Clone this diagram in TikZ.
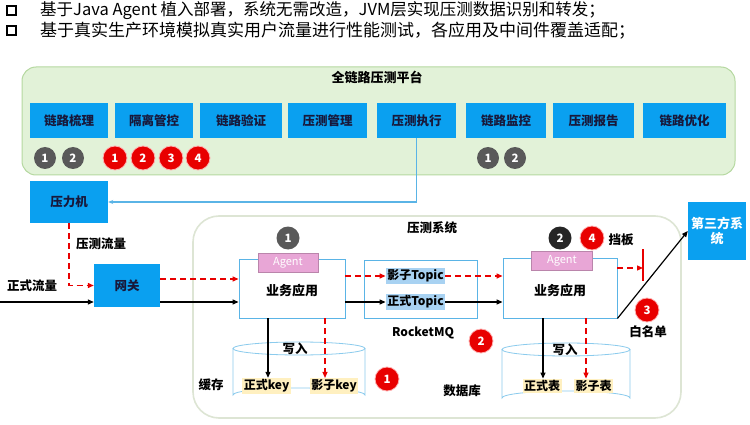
\documentclass[tikz,border=0pt]{standalone}
\usepackage{fontspec}
\setmainfont{Noto Sans CJK SC}
\usetikzlibrary{arrows.meta}
\definecolor{platfill}{HTML}{E2F2D8}
\definecolor{platdraw}{HTML}{B5D8A0}
\definecolor{blueC}{HTML}{0AA0F0}
\definecolor{txtC}{HTML}{18183A}
\definecolor{grayC}{HTML}{595959}
\definecolor{darkC}{HTML}{262626}
\definecolor{redC}{HTML}{E80000}
\definecolor{pinkC}{HTML}{E8A6D6}
\definecolor{topicC}{HTML}{A8D2F2}
\definecolor{keyC}{HTML}{FFF0C0}
\definecolor{lineBlue}{HTML}{5AB4E6}
\definecolor{sysDraw}{HTML}{DDE5D4}
\begin{document}
\begin{tikzpicture}[x=1pt,y=-1pt,
  lbl/.style={inner sep=0, font=\bfseries\fontsize{12.5}{14}\selectfont, text=black},
  bluebox/.style={fill=blueC, draw=none, inner sep=0, minimum height=35, font=\bfseries\fontsize{12.5}{14}\selectfont, text=txtC},
  numc/.style={circle, inner sep=0, font=\bfseries\fontsize{11.5}{12}\selectfont, text=white},
  gc/.style={numc, fill=grayC, minimum size=22},
  dc/.style={numc, fill=darkC, minimum size=22},
  rc/.style={numc, fill=redC, minimum size=24, draw=red!30, line width=0.8pt},
  appbox/.style={draw=lineBlue, line width=0.9pt, fill=white, inner sep=0},
  agentbox/.style={fill=pinkC, draw=pinkC!80!black, line width=0.4pt, inner sep=0, text=white, font=\fontsize{11}{12}\selectfont},
  redarr/.style={draw=redC, line width=1.3pt, dash pattern=on 6pt off 4pt, -{Triangle[length=6pt,width=5pt]}},
  blkarr/.style={draw=black, line width=1.2pt, -{Triangle[length=6pt,width=5pt]}},
  bluearr/.style={draw=lineBlue, line width=1.1pt, -{Stealth[length=5pt,width=4pt]}},
  hl/.style={inner sep=1.5pt, font=\bfseries\fontsize{12}{14}\selectfont},
  bullet/.style={draw=black, line width=2pt, minimum size=9, inner sep=0}
]
\useasboundingbox (0,0) rectangle (750,425);
% header
\node[bullet] (sq1) at (11,11) {};
\node[bullet] (sq2) at (11,31) {};
\node[anchor=west, inner sep=0, font=\fontsize{16.5}{18}\selectfont] (t1) at (40,11) {基于Java Agent 植入部署，系统无需改造，JVM层实现压测数据识别和转发；};
\node[anchor=west, inner sep=0, font=\fontsize{17}{18}\selectfont] (t2) at (40,31) {基于真实生产环境模拟真实用户流量进行性能测试，各应用及中间件覆盖适配；};
% platform
\draw[fill=platfill, draw=platdraw, line width=1pt, rounded corners=14] (22,67) rectangle (735,175);
\node[lbl, font=\bfseries\fontsize{13}{14}\selectfont] (ptitle) at (377,77) {全链路压测平台};
\node[bluebox, minimum width=78] (b1) at (69,120.5) {链路梳理};
\node[bluebox, minimum width=78] (b2) at (154,120.5) {隔离管控};
\node[bluebox, minimum width=82] (b3) at (241,120.5) {链路验证};
\node[bluebox, minimum width=79] (b4) at (327.5,120.5) {压测管理};
\node[bluebox, minimum width=79] (b5) at (416.5,120.5) {压测执行};
\node[bluebox, minimum width=80] (b6) at (506,120.5) {链路监控};
\node[bluebox, minimum width=81] (b7) at (593.5,120.5) {压测报告};
\node[bluebox, minimum width=83] (b8) at (684.5,120.5) {链路优化};
\node[gc] (g1) at (45,158) {1};
\node[gc] (g2) at (73,158) {2};
\node[rc] (r1) at (115,158) {1};
\node[rc] (r2) at (143,158) {2};
\node[rc] (r3) at (171,158) {3};
\node[rc] (r4) at (198,158) {4};
\node[gc] (g3) at (488,158) {1};
\node[gc] (g4) at (515,158) {2};
% test system container
\draw[draw=sysDraw, line width=1.6pt, fill=white, rounded corners=26] (193,216) rectangle (681,418);
\node[lbl] (systitle) at (432,228) {压测系统};
% press & gateway
\node[bluebox, minimum width=78, minimum height=42] (press) at (69,202) {压力机};
\node[bluebox, minimum width=66, minimum height=43] (gw) at (127,285.5) {网关};
\draw[bluearr] (b5.south) |- (press.east);
\node[lbl] (ptraffic) at (101,244) {压测流量};
\node[lbl] (ftraffic) at (32,286) {正式流量};
\coordinate (in) at (0,302);
\draw[redarr] (press.south) |- (gw.west);
\draw[blkarr] (in) -- (in -| gw.west);
% apps
\node[appbox, minimum width=106, minimum height=59] (app1) at (292,288.5) {};
\node[lbl, font=\bfseries\fontsize{13}{14}\selectfont] (app1t) at (292,291) {业务应用};
\node[agentbox, minimum width=60, minimum height=19] (ag1) at (288,262.5) {Agent};
\node[gc, minimum size=23] (c1) at (288,238) {1};
\node[appbox, minimum width=113, minimum height=58] (mq) at (420.5,289) {};
\node[hl, fill=topicC] (st) at (415.5,276) {影子Topic};
\node[hl, fill=topicC] (ft) at (415.5,302) {正式Topic};
\node[lbl, font=\bfseries\fontsize{12}{14}\selectfont] (mqt) at (423,333) {RocketMQ};
\node[rc] (r5) at (481,341) {2};
\node[appbox, minimum width=114, minimum height=60] (app2) at (560,288) {};
\node[lbl, font=\bfseries\fontsize{13}{14}\selectfont] (app2t) at (560,291) {业务应用};
\node[agentbox, minimum width=61, minimum height=19] (ag2) at (562,261) {Agent};
\node[dc, minimum size=23] (c2) at (560,238) {2};
\node[rc] (c4) at (592,238) {4};
\node[lbl] (dangban) at (621,240) {挡板};
% third party
\node[fill=blueC, inner sep=0, minimum width=58, minimum height=58, text=white, align=center, font=\bfseries\fontsize{13}{15}\selectfont] (third) at (717,231) {第三方系\\统};
\node[rc] (c3) at (647,310) {3};
\node[lbl] (wl) at (648,332) {白名单};
% flows
\coordinate (dsh) at (0,279);
\coordinate (sol) at (0,302);
\draw[redarr] (gw.east |- dsh) -- (app1.west |- dsh);
\draw[blkarr] (gw.east |- sol) -- (app1.west |- sol);
\draw[redarr] (app1.east |- st) -- (st.west);
\draw[blkarr] (app1.east |- ft) -- (ft.west);
\draw[redarr] (st.east) -- (app2.west |- st);
\draw[blkarr] (ft.east) -- (app2.west |- ft);
\coordinate (stopT) at (643,249);
\coordinate (stopB) at (643,281);
\coordinate (stopM) at (643,268);
\draw[draw=redC, line width=1.1pt] (stopT) -- (stopB);
\draw[redarr] (app2.east |- stopM) -- (stopM);
\draw[line width=1.2pt, -{Triangle[length=6pt,width=5pt]}] (app2.south east) -- (third.west);
% cylinders
\draw[draw=lineBlue!70, line width=0.8pt, fill=white] (233,348.5) -- (233,395) arc[start angle=180, end angle=360, x radius=66, y radius=7] -- (365,348.5);
\draw[draw=lineBlue!70, line width=0.8pt, fill=white] (299,348.5) ellipse[x radius=66, y radius=6.5];
\draw[draw=lineBlue!70, line width=0.8pt, fill=white] (502,349.5) -- (502,398) arc[start angle=180, end angle=360, x radius=64, y radius=7] -- (630,349.5);
\draw[draw=lineBlue!70, line width=0.8pt, fill=white] (566,349.5) ellipse[x radius=64, y radius=6.5];
\node[lbl] (w1) at (295,349) {写入};
\node[lbl] (w2) at (565,350) {写入};
\node[hl, fill=keyC] (k1) at (266.5,386) {正式key};
\node[hl, fill=keyC] (k2) at (334,386) {影子key};
\node[hl, fill=keyC] (k3) at (542,386) {正式表};
\node[hl, fill=keyC] (k4) at (593.5,386) {影子表};
\node[lbl] (cache) at (211,385) {缓存};
\node[rc] (c5) at (387,379) {1};
\node[lbl] (db) at (462,391) {数据库};
\coordinate (a1) at (268,318);
\coordinate (a2) at (325,318);
\coordinate (a3) at (543,318);
\coordinate (a4) at (586,318);
\draw[blkarr] (a1) -- (a1 |- k1.north);
\draw[redarr, line width=1.1pt] (a2) -- (a2 |- k2.north);
\draw[blkarr] (a3) -- (a3 |- k3.north);
\draw[redarr, line width=1.1pt] (a4) -- (a4 |- k4.north);
\end{tikzpicture}
\end{document}
